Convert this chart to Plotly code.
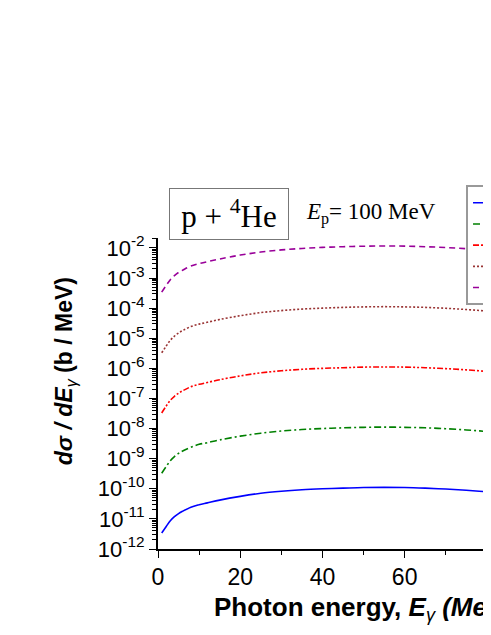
import plotly.graph_objects as go

# photon energy (MeV)
energy = [0.9, 2, 3, 4, 5, 6, 8, 10, 12, 15, 20, 25, 30, 35, 40, 45,
          50, 55, 60, 65, 70, 75, 80, 85]

# d sigma / dE_gamma (b / MeV)
curve_1 = [3.4e-12, 5.6e-12, 8.7e-12, 1.18e-11, 1.5e-11, 1.8e-11, 2.45e-11,
           2.95e-11, 3.4e-11, 4.2e-11, 5.6e-11, 7.1e-11, 8.3e-11, 9.3e-11,
           1.0e-10, 1.05e-10, 1.1e-10, 1.11e-10, 1.1e-10, 1.05e-10, 9.8e-11,
           8.9e-11, 7.9e-11, 6.9e-11]
curve_2 = [3.3e-10, 5.5e-10, 8.6e-10, 1.17e-9, 1.5e-9, 1.8e-9, 2.4e-9,
           3.0e-9, 3.4e-9, 4.2e-9, 5.6e-9, 7.0e-9, 8.3e-9, 9.3e-9,
           1.0e-8, 1.06e-8, 1.1e-8, 1.12e-8, 1.1e-8, 1.06e-8, 9.9e-9,
           9.0e-9, 8.0e-9, 7.0e-9]
curve_3 = [3.3e-8, 5.6e-8, 8.7e-8, 1.18e-7, 1.5e-7, 1.8e-7, 2.45e-7,
           2.95e-7, 3.4e-7, 4.2e-7, 5.6e-7, 7.1e-7, 8.3e-7, 9.3e-7,
           1.0e-6, 1.05e-6, 1.1e-6, 1.11e-6, 1.1e-6, 1.05e-6, 9.8e-7,
           8.9e-7, 7.9e-7, 6.9e-7]
curve_4 = [3.3e-6, 5.5e-6, 8.6e-6, 1.17e-5, 1.5e-5, 1.8e-5, 2.45e-5,
           2.95e-5, 3.4e-5, 4.2e-5, 5.6e-5, 7.1e-5, 8.3e-5, 9.3e-5,
           1.0e-4, 1.06e-4, 1.1e-4, 1.12e-4, 1.1e-4, 1.06e-4, 9.9e-5,
           9.0e-5, 8.0e-5, 7.0e-5]
curve_5 = [3.4e-4, 5.7e-4, 8.8e-4, 1.2e-3, 1.53e-3, 1.82e-3, 2.5e-3,
           3.0e-3, 3.5e-3, 4.3e-3, 5.8e-3, 7.3e-3, 8.6e-3, 9.6e-3,
           1.04e-2, 1.1e-2, 1.14e-2, 1.16e-2, 1.15e-2, 1.1e-2, 1.03e-2,
           9.4e-3, 8.4e-3, 7.3e-3]

names = ["× 1", "× 10<sup>2</sup>", "× 10<sup>4</sup>", "× 10<sup>6</sup>", "× 10<sup>8</sup>"]
series = [curve_1, curve_2, curve_3, curve_4, curve_5]

# y tick labels (hyphen minus, as in the original)
y_tickvals = [1e-12, 1e-11, 1e-10, 1e-9, 1e-8, 1e-7, 1e-6, 1e-5, 1e-4, 1e-3, 1e-2]
y_ticktext = ["10<sup>-12</sup>", "10<sup>-11</sup>", "10<sup>-10</sup>", "10<sup>-9</sup>",
              "10<sup>-8</sup>", "10<sup>-7</sup>", "10<sup>-6</sup>", "10<sup>-5</sup>",
              "10<sup>-4</sup>", "10<sup>-3</sup>", "10<sup>-2</sup>"]

STYLES = [
    ("#0000FF", "solid"),
    ("#008000", "7px,3px,2px,3px"),
    ("#FF0000", "6px,2px,2px,2px,2px,2px"),
    ("#993333", "2px,2px"),
    ("#990099", "6px,4px"),
]

FONT_SANS = "Liberation Sans"
FONT_SERIF = "Liberation Serif"

fig = go.Figure()

for name, values, (color, dash) in zip(names, series, STYLES):
    fig.add_trace(
        go.Scatter(
            x=energy,
            y=values,
            name=name,
            mode="lines",
            line=dict(color=color, dash=dash, width=1.6, shape="spline"),
        )
    )

fig.update_xaxes(
    range=[0, 81],
    dtick=20,
    ticks="outside",
    ticklen=7,
    tickwidth=1.2,
    tickcolor="black",
    showline=True,
    linecolor="black",
    linewidth=1.5,
    showgrid=False,
    zeroline=False,
    tickfont=dict(family=FONT_SANS, size=23, color="black"),
    minor=dict(dtick=10, ticks="outside", ticklen=4, tickcolor="black"),
)

fig.update_yaxes(
    type="log",
    range=[-12, -1.67],
    tickvals=y_tickvals,
    ticktext=y_ticktext,
    ticks="outside",
    ticklen=7,
    tickwidth=1.2,
    tickcolor="black",
    showline=True,
    linecolor="black",
    linewidth=2,
    showgrid=False,
    zeroline=False,
    tickfont=dict(family=FONT_SANS, size=22, color="black"),
    minor=dict(dtick="D1", ticks="outside", ticklen=4, tickcolor="black", showgrid=False),
)

# axis titles (the x title runs off the right edge in the original)
fig.add_annotation(
    xref="paper", yref="paper", x=-0.279, y=0.572,
    xanchor="center", yanchor="middle",
    text="<b><i>dσ / dE</i></b><sub><i>γ</i></sub><b> (b / MeV)</b>",
    textangle=-90, showarrow=False,
    font=dict(family=FONT_SANS, size=23, color="black"),
)
fig.add_annotation(
    xref="paper", yref="paper", x=0.162, y=-0.19,
    xanchor="left", yanchor="middle",
    text="<b>Photon energy, <i>E</i></b><sub><i>γ</i></sub><b><i> (MeV)</i></b>",
    showarrow=False,
    font=dict(family=FONT_SANS, size=26, color="black"),
)

# reaction label and beam energy
fig.add_annotation(
    xref="paper", yref="paper", x=0.213, y=1.077,
    xanchor="center", yanchor="middle",
    text="p + <sup>4</sup>He", showarrow=False,
    font=dict(family=FONT_SERIF, size=31, color="black"),
    width=118, height=50,
    bordercolor="#777777", borderwidth=1, borderpad=0,
    bgcolor="white",
)
fig.add_annotation(
    xref="paper", yref="paper", x=0.437, y=1.08,
    xanchor="left", yanchor="middle",
    text="<i>E</i><sub>p</sub>= 100 MeV", showarrow=False,
    font=dict(family=FONT_SERIF, size=23, color="black"),
)

fig.update_layout(
    width=483,
    height=627,
    margin=dict(l=150, r=0, t=230, b=86, autoexpand=False),
    paper_bgcolor="white",
    plot_bgcolor="white",
    showlegend=True,
    legend=dict(
        x=0.925, y=1.17, xanchor="left", yanchor="top",
        bordercolor="#999999", borderwidth=2, bgcolor="white",
        font=dict(family=FONT_SANS, size=14, color="black"),
    ),
)

fig.write_html("out.html")
